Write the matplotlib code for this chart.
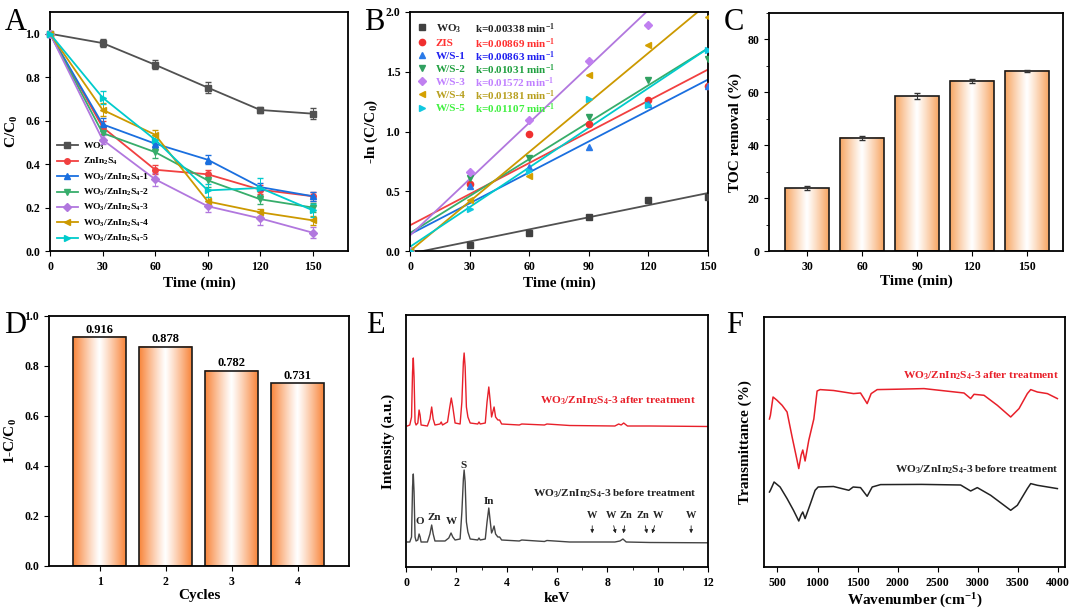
import matplotlib
matplotlib.use('Agg')
import matplotlib.pyplot as plt
import numpy as np
from matplotlib.colors import LinearSegmentedColormap
from matplotlib.ticker import MultipleLocator, FormatStrFormatter

# ---------------- data ----------------
# (A) degradation curves
time_a = [0, 30, 60, 90, 120, 150]
c_wo3 = [1.0, 0.957, 0.857, 0.752, 0.649, 0.632]
c_zis = [1.0, 0.57, 0.374, 0.353, 0.282, 0.252]
c_ws1 = [1.0, 0.583, 0.494, 0.42, 0.294, 0.252]
c_ws2 = [1.0, 0.543, 0.455, 0.325, 0.238, 0.2]
c_ws3 = [1.0, 0.512, 0.33, 0.206, 0.15, 0.084]
c_ws4 = [1.0, 0.65, 0.535, 0.228, 0.178, 0.141]
c_ws5 = [1.0, 0.706, 0.512, 0.279, 0.29, 0.187]
e_wo3 = [0, 0.02, 0.02, 0.025, 0.015, 0.025]
e_zis = [0, 0.03, 0.02, 0.02, 0.02, 0.02]
e_ws1 = [0, 0.03, 0.02, 0.02, 0.02, 0.02]
e_ws2 = [0, 0.03, 0.025, 0.03, 0.02, 0.02]
e_ws3 = [0, 0.02, 0.03, 0.025, 0.03, 0.025]
e_ws4 = [0, 0.03, 0.02, 0.02, 0.015, 0.02]
e_ws5 = [0, 0.03, 0.02, 0.03, 0.045, 0.03]
names_a = ['WO$_3$', 'ZnIn$_2$S$_4$', 'WO$_3$/ZnIn$_2$S$_4$-1', 'WO$_3$/ZnIn$_2$S$_4$-2',
           'WO$_3$/ZnIn$_2$S$_4$-3', 'WO$_3$/ZnIn$_2$S$_4$-4', 'WO$_3$/ZnIn$_2$S$_4$-5']

# (B) kinetics: -ln(C/C0) points and linear fits
ln_wo3 = [0.0, 0.047, 0.153, 0.285, 0.43, 0.45]
ln_zis = [0.0, 0.56, 0.98, 1.06, 1.26, 1.38]
ln_ws1 = [0.0, 0.54, 0.70, 0.87, 1.23, 1.38]
ln_ws2 = [0.0, 0.61, 0.78, 1.12, 1.43, 1.61]
ln_ws3 = [0.0, 0.66, 1.10, 1.59, 1.89, 2.48]
ln_ws4 = [0.0, 0.43, 0.63, 1.47, 1.72, 1.96]
ln_ws5 = [0.0, 0.354, 0.67, 1.27, 1.22, 1.68]
names_b = ['WO$_3$', 'ZIS', 'W/S-1', 'W/S-2', 'W/S-3', 'W/S-4', 'W/S-5']
k_vals = [0.00338, 0.00869, 0.00863, 0.01031, 0.01572, 0.01381, 0.01107]
b_vals = [-0.022, 0.215, 0.14, 0.15, 0.13, 0.0, 0.035]

# (C) TOC removal
toc_time = ['30', '60', '90', '120', '150']
toc_val = [23.8, 42.8, 58.6, 64.4, 68.1]
toc_err = [0.8, 0.7, 1.0, 0.8, 0.5]

# (D) cycles
cycles = [1, 2, 3, 4]
removal = [0.916, 0.878, 0.782, 0.731]

# (E) EDS spectra (keV, intensity a.u.)
eds_after_x = [0.05, 0.15, 0.22, 0.26, 0.29, 0.32, 0.36, 0.40, 0.47, 0.52, 0.56, 0.60, 0.85, 0.95, 1.02,
               1.08, 1.15, 1.35, 1.40, 1.45, 1.65, 1.74, 1.80, 1.86, 1.95, 2.15, 2.22, 2.28, 2.31, 2.35,
               2.40, 2.46, 2.55, 2.85, 2.90, 2.95, 3.15, 3.22, 3.29, 3.35, 3.40, 3.45, 3.50, 3.56, 3.65,
               3.72, 3.80, 4.5, 4.6, 5.5, 5.6, 6.5, 8.3, 8.45, 8.55, 8.65, 8.8, 9.7, 12.0]
eds_after_y = [141, 142, 150, 195, 209, 190, 145, 142, 144, 157, 152, 142, 141, 148, 160,
               148, 142, 143, 145, 142, 145, 160, 169, 160, 144, 143, 165, 205, 214, 200,
               160, 150, 144, 143, 145, 143, 144, 165, 180, 165, 150, 155, 160, 150, 147,
               147, 143, 142, 143, 142, 143, 141.5, 141, 143, 142, 144, 141, 141, 140.5]
eds_before_x = [0.05, 0.15, 0.22, 0.26, 0.29, 0.32, 0.36, 0.40, 0.47, 0.52, 0.56, 0.60, 0.85, 0.95, 1.02,
                1.08, 1.15, 1.55, 1.70, 1.79, 1.86, 1.95, 2.15, 2.22, 2.28, 2.31, 2.35, 2.40, 2.46,
                2.55, 2.85, 2.90, 2.95, 3.15, 3.22, 3.29, 3.35, 3.40, 3.45, 3.50, 3.56, 3.65, 3.72,
                3.80, 4.5, 4.6, 5.5, 5.6, 6.5, 8.3, 8.5, 8.62, 8.75, 9.7, 12.0]
eds_before_y = [25, 25, 30, 80, 93, 75, 30, 26, 27, 33, 30, 25, 25, 33, 42,
                33, 26, 26, 29, 34, 30, 27, 28, 55, 88, 97, 85, 45, 35,
                28, 27, 29, 27, 28, 45, 59, 45, 34, 37, 41, 33, 30, 30,
                27, 26, 27, 25.5, 26.5, 25, 25, 26, 28, 25, 24.5, 24.2]

# (F) FTIR spectra (cm-1, transmittance a.u.)
ir_after_x = [400, 412, 445, 495, 558, 620, 683, 745, 766, 795, 816, 845, 891, 954, 995, 1033, 1200,
              1450, 1537, 1620, 1670, 1745, 2000, 2330, 2829, 2912, 2954, 3079, 3245, 3412, 3516,
              3620, 3662, 3745, 3870, 3995]
ir_after_y = [148, 151.7, 170, 166.7, 161.7, 155, 130, 106.7, 98.4, 111.7, 117, 106, 126.7, 148, 176,
              177.4, 176.5, 173.4, 174, 163.4, 173.4, 177.4, 177.8, 178.4, 174, 168.4, 172.7, 171.7,
              161.7, 150, 158.4, 173.4, 177.4, 175, 173.4, 168.4]
ir_before_x = [400, 412, 458, 533, 620, 700, 766, 795, 816, 845, 912, 970, 1008, 1200, 1391, 1445,
               1537, 1620, 1683, 1787, 2300, 2787, 2912, 2995, 3162, 3329, 3412, 3495, 3620, 3662,
               3745, 3995]
ir_before_y = [75, 76.7, 85, 80, 68.4, 56.7, 46, 52, 55, 48.4, 63.4, 76.7, 80, 80.5, 76.7, 80,
               79.4, 70.7, 80, 82.4, 82.6, 82, 76, 79.4, 71.7, 61.7, 56.7, 61.7, 78.4, 83.4,
               81.7, 78.4]

# ---------------- style ----------------
plt.rcParams['font.family'] = ['Liberation Serif', 'DejaVu Serif']
plt.rcParams['font.weight'] = 'bold'
plt.rcParams['axes.labelweight'] = 'bold'
plt.rcParams['mathtext.default'] = 'regular'
plt.rcParams['axes.linewidth'] = 1.3
plt.rcParams['xtick.direction'] = 'out'
plt.rcParams['ytick.direction'] = 'out'
plt.rcParams['xtick.major.size'] = 3.5
plt.rcParams['ytick.major.size'] = 3.5
plt.rcParams['xtick.minor.size'] = 2
plt.rcParams['ytick.minor.size'] = 2
plt.rcParams['xtick.labelsize'] = 8.5
plt.rcParams['ytick.labelsize'] = 8.5
plt.rcParams['axes.labelsize'] = 11

origin_colors = ['#515151', '#F14040', '#1A6FDF', '#37AD6B', '#B177DE', '#CC9900', '#00CBCC']
markers = ['s', 'o', '^', 'v', 'D', '<', '>']

W, H = 1080, 614
fig = plt.figure(figsize=(W / 100, H / 100), dpi=100)


def px_axes(l, t, r, b):
    return fig.add_axes([l / W, 1 - b / H, (r - l) / W, (b - t) / H])


def grad_bars(ax, xs, heights, width, color):
    cmap = LinearSegmentedColormap.from_list('bar', ['white', color])
    g = np.abs(np.linspace(-1, 1, 200)) ** 1.1
    g = g[np.newaxis, :]
    for x, h in zip(xs, heights):
        ax.imshow(g, extent=[x - width / 2, x + width / 2, 0, h], aspect='auto', cmap=cmap,
                  vmin=0, vmax=1, zorder=1, interpolation='bilinear')
    ax.bar(xs, heights, width=width, facecolor='none', edgecolor='#1a1a1a', linewidth=1.2, zorder=2)


# ---------------- A ----------------
ax = px_axes(50, 12, 348, 251)
series_a = [c_wo3, c_zis, c_ws1, c_ws2, c_ws3, c_ws4, c_ws5]
errs_a = [e_wo3, e_zis, e_ws1, e_ws2, e_ws3, e_ws4, e_ws5]
for i in range(7):
    ax.errorbar(time_a, series_a[i], yerr=errs_a[i], color=origin_colors[i], marker=markers[i],
                markersize=4, lw=1.3, capsize=2, elinewidth=0.7, ecolor=origin_colors[i],
                label=names_a[i], clip_on=False, zorder=3)
ax.set_xlim(0, 170)
ax.set_ylim(0, 1.1)
ax.set_xticks([0, 30, 60, 90, 120, 150])
ax.set_yticks([0, 0.2, 0.4, 0.6, 0.8, 1.0])
ax.yaxis.set_major_formatter(FormatStrFormatter('%.1f'))
ax.set_xlabel('Time (min)', labelpad=3)
ax.set_ylabel('C/C$_0$', labelpad=4)
handles, labels = ax.get_legend_handles_labels()
handles = [h[0] for h in handles]
ax.legend(handles, labels, loc='lower left', frameon=False, fontsize=6.8, handlelength=2.3,
          handletextpad=0.5, labelspacing=0.45, borderaxespad=0.3, bbox_to_anchor=(0.0, 0.0))

# ---------------- B ----------------
ax = px_axes(410, 12, 708, 251)
series_b = [ln_wo3, ln_zis, ln_ws1, ln_ws2, ln_ws3, ln_ws4, ln_ws5]
mk_colors = ['#404040', '#F03030', '#2A7AE8', '#30A060', '#C080F0', '#D4A000', '#10C8E0']
for i in range(7):
    ax.plot(time_a, series_b[i], linestyle='none', marker=markers[i], markersize=4.5,
            color=mk_colors[i], label=names_b[i], zorder=3)
    fit_x = np.array([0, 150])
    ax.plot(fit_x, k_vals[i] * fit_x + b_vals[i], color=origin_colors[i], lw=1.3, zorder=2)
ax.set_xlim(0, 150)
ax.set_ylim(0, 2.0)
ax.set_xticks([0, 30, 60, 90, 120, 150])
ax.set_yticks([0, 0.5, 1.0, 1.5, 2.0])
ax.yaxis.set_major_formatter(FormatStrFormatter('%.1f'))
ax.set_xlabel('Time (min)', labelpad=3)
ax.set_ylabel('-ln (C/C$_0$)', labelpad=4)
text_colors = ['#222222', '#FF3030', '#2020F0', '#20A040', '#C080FF', '#B8A020', '#40F040']
leg = ax.legend(loc='upper left', frameon=False, fontsize=8, handlelength=1.0, handletextpad=0.7,
                labelspacing=0.3, borderaxespad=0.2, bbox_to_anchor=(0.0, 0.985))
for t, c in zip(leg.get_texts(), text_colors):
    t.set_color(c)
fig.canvas.draw()
renderer = fig.canvas.get_renderer()
inv = ax.transAxes.inverted()
for t, c, k in zip(leg.get_texts(), text_colors, k_vals):
    bb = t.get_window_extent(renderer)
    yc = inv.transform((0, (bb.y0 + bb.y1) / 2))[1]
    ax.text((475 - 410) / 298, yc, 'k=%.5f min$^{-1}$' % k, transform=ax.transAxes,
            color=c, fontsize=8, va='center', ha='left')

# ---------------- C ----------------
ax = px_axes(769, 13, 1063, 251)
xc = np.arange(len(toc_time))
grad_bars(ax, xc, toc_val, 0.8, '#F7A562')
ax.errorbar(xc, toc_val, yerr=toc_err, fmt='none', ecolor='#333333', capsize=2, elinewidth=0.8, zorder=3)
ax.set_xlim(-0.7, 4.66)
ax.set_ylim(0, 90)
ax.set_xticks(xc)
ax.set_xticklabels(toc_time)
ax.set_yticks([0, 20, 40, 60, 80])
ax.yaxis.set_minor_locator(MultipleLocator(10))
ax.set_xlabel('Time (min)', labelpad=1)
ax.set_ylabel('TOC removal (%)', labelpad=4)

# ---------------- D ----------------
ax = px_axes(49, 316, 349, 566)
grad_bars(ax, cycles, removal, 0.8, '#F8853A')
for x, v in zip(cycles, removal):
    ax.text(x, v + 0.004, '%.3f' % v, ha='center', va='bottom', fontsize=9)
ax.set_xlim(0.23, 4.78)
ax.set_ylim(0, 1.0)
ax.set_xticks(cycles)
ax.set_yticks([0, 0.2, 0.4, 0.6, 0.8, 1.0])
ax.yaxis.set_major_formatter(FormatStrFormatter('%.1f'))
ax.set_xlabel('Cycles', labelpad=1)
ax.set_ylabel('1-C/C$_0$', labelpad=4)

# ---------------- E ----------------
ax = px_axes(406, 315, 708, 567)
ax.plot(eds_after_x, eds_after_y, color='#E8202A', lw=1.0)
ax.plot(eds_before_x, eds_before_y, color='#444444', lw=1.0)
ax.set_xlim(0, 12)
ax.set_ylim(0, 252)
ax.set_xticks([0, 2, 4, 6, 8, 10, 12])
ax.xaxis.set_minor_locator(MultipleLocator(1))
ax.set_yticks([])
ax.set_xlabel('keV', labelpad=2)
ax.set_ylabel('Intensity (a.u.)', labelpad=8)
ax.text(11.5, 166, 'WO$_3$/ZnIn$_2$S$_4$-3 after treatment', color='#E8202A', fontsize=8.2, ha='right', va='center')
ax.text(11.55, 73, 'WO$_3$/ZnIn$_2$S$_4$-3 before treatment', color='#222222', fontsize=8.2, ha='right', va='center')
for lab, xt, yt in [('O', 0.56, 45), ('Zn', 1.12, 50), ('W', 1.82, 45), ('S', 2.29, 101), ('In', 3.3, 66)]:
    ax.text(xt, yt, lab, fontsize=8, ha='center', va='center', color='#222222')
arrows_e = [('W', 7.4, 7.4), ('W', 8.15, 8.36), ('Zn', 8.75, 8.62), ('Zn', 9.42, 9.6), ('W', 10.0, 9.75),
            ('W', 11.33, 11.33)]
for lab, xt, xa in arrows_e:
    ax.text(xt, 51, lab, fontsize=7.5, ha='center', va='center', color='#222222')
    ax.annotate('', xy=(xa, 31), xytext=(xt + (xa - xt) * 0.35, 44),
                arrowprops=dict(arrowstyle='-|>', color='#222222', lw=0.6, mutation_scale=5))

# ---------------- F ----------------
ax = px_axes(764, 317, 1065, 567)
ax.plot(ir_after_x, ir_after_y, color='#E8202A', lw=1.1)
ax.plot(ir_before_x, ir_before_y, color='#222222', lw=1.1)
ax.set_xlim(332, 4090)
ax.set_ylim(0, 250)
ax.set_xticks([500, 1000, 1500, 2000, 2500, 3000, 3500, 4000])
ax.set_yticks([])
ax.set_xlabel('Wavenumber (cm$^{-1}$)', labelpad=2)
ax.set_ylabel('Transmittance (%)', labelpad=9)
ax.text(4010, 191, 'WO$_3$/ZnIn$_2$S$_4$-3 after treatment', color='#E8202A', fontsize=8.2, ha='right', va='center')
ax.text(4010, 97, 'WO$_3$/ZnIn$_2$S$_4$-3 before treatment', color='#222222', fontsize=8.2, ha='right', va='center')

# panel letters
for lab, x, y in [('A', 5, 8), ('B', 364, 8), ('C', 724, 8), ('D', 4, 311), ('E', 366, 311), ('F', 726, 311)]:
    fig.text(x / W, 1 - y / H, lab, fontsize=22, fontweight='normal', ha='left', va='top')

fig.savefig('out.png', dpi=100)
